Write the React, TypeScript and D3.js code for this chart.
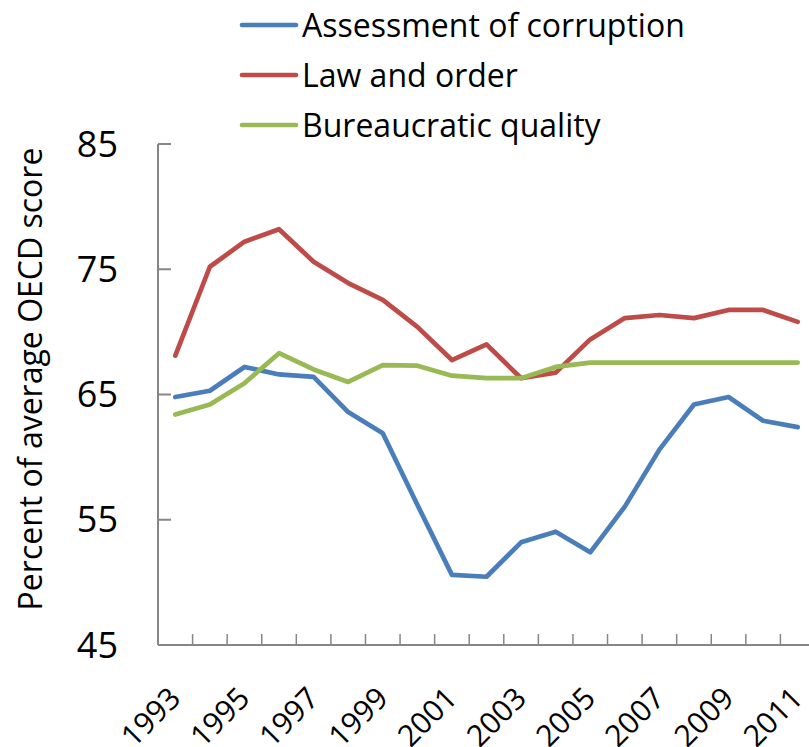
import React from "react";
import * as d3 from "d3";

const years = [1993, 1994, 1995, 1996, 1997, 1998, 1999, 2000, 2001, 2002, 2003, 2004, 2005, 2006, 2007, 2008, 2009, 2010, 2011];
const corruption = [64.8, 65.3, 67.2, 66.6, 66.4, 63.6, 61.9, 56.2, 50.6, 50.45, 53.2, 54.05, 52.4, 56.05, 60.6, 64.2, 64.8, 62.9, 62.4];
const lawOrder = [68.1, 75.2, 77.2, 78.2, 75.6, 73.9, 72.55, 70.4, 67.75, 69.0, 66.3, 66.75, 69.4, 71.1, 71.35, 71.1, 71.75, 71.75, 70.8];
const bureaucratic = [63.4, 64.2, 65.9, 68.3, 67.0, 66.0, 67.35, 67.3, 66.5, 66.3, 66.3, 67.2, 67.55, 67.55, 67.55, 67.55, 67.55, 67.55, 67.55];
const yTicks = [45, 55, 65, 75, 85];
const labelYears = [1993, 1995, 1997, 1999, 2001, 2003, 2005, 2007, 2009, 2011];

const seriesNames = ["Assessment of corruption", "Law and order", "Bureaucratic quality"];
const seriesColors = ["#4a7ebb", "#be4b48", "#98b954"];
const seriesValues = [corruption, lawOrder, bureaucratic];

const W = 809;
const H = 747;
const FONT = "'Open Sans', 'Noto Sans', sans-serif";
const AXIS = "#868686";

export default function App() {
  const left = 158;
  const right = 815;
  const top = 144;
  const bottom = 645;

  const x = d3.scalePoint<number>().domain(years).range([left, right]).padding(0.5);
  const y = d3.scaleLinear().domain([45, 85]).range([bottom, top]);
  const step = x.step();

  const line = d3
    .line<number>()
    .x((_, i) => x(years[i]) as number)
    .y((d) => y(d));

  const boundaries = years.map((yr) => (x(yr) as number) + step / 2);

  return (
    <svg
      width={W}
      height={H}
      viewBox={`0 0 ${W} ${H}`}
      style={{ position: "absolute", left: 0, top: 0, background: "#fff" }}
      fontFamily={FONT}
    >
      {/* axes */}
      <line x1={left} y1={top} x2={left} y2={bottom} stroke={AXIS} strokeWidth={2} />
      <line x1={left} y1={bottom} x2={right} y2={bottom} stroke={AXIS} strokeWidth={2} />
      {yTicks.map((t) => (
        <g key={t}>
          <line x1={left} x2={left + 13} y1={y(t)} y2={y(t)} stroke={AXIS} strokeWidth={2} />
          <text x={118} y={y(t)} dy="0.35em" textAnchor="end" fontSize={36} fill="#000">
            {t}
          </text>
        </g>
      ))}
      {boundaries.map((b, i) => (
        <line key={i} x1={b} x2={b} y1={bottom} y2={bottom - 11} stroke={AXIS} strokeWidth={1.5} />
      ))}
      {labelYears.map((yr) => (
        <text
          key={yr}
          transform={`translate(${(x(yr) as number) + 7},${700}) rotate(-45)`}
          textAnchor="end"
          fontSize={30}
          fill="#000"
        >
          {yr}
        </text>
      ))}

      {/* y label */}
      <text
        transform={`translate(42,${379}) rotate(-90)`}
        textAnchor="middle"
        fontSize={32}
        fill="#000"
      >
        Percent of average OECD score
      </text>

      {/* series */}
      {seriesValues.map((vals, i) => (
        <path
          key={seriesNames[i]}
          d={line(vals) || ""}
          fill="none"
          stroke={seriesColors[i]}
          strokeWidth={4.7}
          strokeLinecap="round"
          strokeLinejoin="round"
        />
      ))}

      {/* legend */}
      {seriesNames.map((name, i) => {
        const ly = 25 + i * 50;
        return (
          <g key={name}>
            <line x1={242} x2={296} y1={ly} y2={ly} stroke={seriesColors[i]} strokeWidth={4.7} strokeLinecap="round" />
            <text x={302} y={ly} dy="0.36em" fontSize={32} fill="#000">
              {name}
            </text>
          </g>
        );
      })}
    </svg>
  );
}
